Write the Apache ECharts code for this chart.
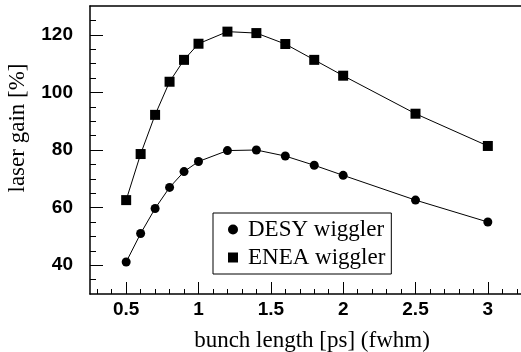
<!DOCTYPE html>
<html>
<head>
<meta charset="utf-8">
<script src="https://cdn.jsdelivr.net/npm/echarts@6/dist/echarts.min.js"></script>
<style>
  html, body { margin: 0; padding: 0; background: #fff; }
  #chart { width: 521px; height: 352px; }
</style>
</head>
<body>
<div id="chart"></div>
<script>
// Bunch length (ps, fwhm) at which the gain was computed
const bunchLength = [0.5, 0.6, 0.7, 0.8, 0.9, 1.0, 1.2, 1.4, 1.6, 1.8, 2.0, 2.5, 3.0];
// Laser gain [%] for each wiggler
const desyGain = [41.1, 51.0, 59.7, 67.0, 72.5, 76.0, 79.8, 80.0, 77.9, 74.7, 71.2, 62.6, 55.0];
const eneaGain = [62.6, 78.6, 92.2, 103.7, 111.3, 116.9, 121.1, 120.6, 116.8, 111.3, 105.8, 92.6, 81.4];

// Tick positions
const xMajorTicks = [0.5, 1, 1.5, 2, 2.5, 3];
const xMinorTicks = [0.3, 0.4, 0.6, 0.7, 0.8, 0.9, 1.1, 1.2, 1.3, 1.4, 1.6, 1.7, 1.8, 1.9,
                     2.1, 2.2, 2.3, 2.4, 2.6, 2.7, 2.8, 2.9, 3.1, 3.2];
const yMajorTicks = [40, 60, 80, 100, 120];
const yMinorTicks = [35, 45, 50, 55, 65, 70, 75, 85, 90, 95, 105, 110, 115, 125];

const SERIF = '"Liberation Serif", "Times New Roman", serif';
const SANS = '"Liberation Sans", Arial, sans-serif';

const pairs = (xs, ys) => xs.map((x, i) => [x, ys[i]]);

const chart = echarts.init(document.getElementById('chart'), null, { renderer: 'canvas' });

const X_MIN = 0.25, X_MAX = 3.25, Y_MIN = 30, Y_MAX = 130;
const axisLine = { show: true, lineStyle: { color: '#000', width: 1.5 } };
const tickLabel = { color: '#000', fontSize: 19, fontWeight: 'bold', fontFamily: SANS };

chart.setOption({
  animation: false,
  backgroundColor: '#fff',
  grid: { left: 90, top: 6, width: 434, height: 288, containLabel: false, outerBoundsMode: 'none' },
  xAxis: [
    {
      type: 'value', min: X_MIN, max: X_MAX, position: 'bottom',
      axisLine: axisLine,
      axisTick: { show: true, inside: true, length: 12, customValues: xMajorTicks,
                  lineStyle: { color: '#000', width: 1 } },
      axisLabel: Object.assign({ show: true, customValues: xMajorTicks, margin: 6 }, tickLabel),
      splitLine: { show: false },
      name: 'bunch length [ps] (fwhm)', nameLocation: 'middle', nameGap: 35,
      nameTextStyle: { color: '#000', fontSize: 23, fontFamily: SERIF, padding: [0, 0, 0, 10] }
    },
    {
      type: 'value', min: X_MIN, max: X_MAX, position: 'bottom',
      axisLine: { show: false },
      axisTick: { show: true, inside: true, length: 5, customValues: xMinorTicks,
                  lineStyle: { color: '#000', width: 1 } },
      axisLabel: { show: false },
      splitLine: { show: false }
    },
    {
      type: 'value', min: X_MIN, max: X_MAX, position: 'top',
      axisLine: axisLine,
      axisTick: { show: false }, axisLabel: { show: false }, splitLine: { show: false }
    }
  ],
  yAxis: [
    {
      type: 'value', min: Y_MIN, max: Y_MAX, position: 'left',
      axisLine: axisLine,
      axisTick: { show: true, inside: true, length: 13, customValues: yMajorTicks,
                  lineStyle: { color: '#000', width: 1 } },
      axisLabel: Object.assign({ show: true, customValues: yMajorTicks, margin: 17 }, tickLabel),
      splitLine: { show: false }
    },
    {
      type: 'value', min: Y_MIN, max: Y_MAX, position: 'left',
      axisLine: { show: false },
      axisTick: { show: true, inside: true, length: 6, customValues: yMinorTicks,
                  lineStyle: { color: '#000', width: 1 } },
      axisLabel: { show: false },
      splitLine: { show: false }
    }
  ],
  legend: {
    left: 213, top: 213, orient: 'vertical',
    backgroundColor: '#fff', borderColor: '#000', borderWidth: 1,
    padding: [5, 6, 5, 15], itemGap: 5, itemWidth: 10, itemHeight: 10,
    textStyle: { color: '#000', fontSize: 23, fontFamily: SERIF, padding: [0, 0, 0, 5] },
    data: [
      { name: 'DESY wiggler', icon: 'circle' },
      { name: 'ENEA wiggler', icon: 'rect' }
    ]
  },
  graphic: [
    {
      type: 'text', x: 18, y: 128, rotation: Math.PI / 2,
      style: { text: 'laser gain [%]', fill: '#000', fontSize: 23, fontFamily: SERIF,
               align: 'center', verticalAlign: 'middle' }
    }
  ],
  series: [
    {
      name: 'DESY wiggler', type: 'line', xAxisIndex: 0, yAxisIndex: 0,
      data: pairs(bunchLength, desyGain),
      symbol: 'circle', symbolSize: 9,
      itemStyle: { color: '#000' },
      lineStyle: { color: '#000', width: 1 }
    },
    {
      name: 'ENEA wiggler', type: 'line', xAxisIndex: 0, yAxisIndex: 0,
      data: pairs(bunchLength, eneaGain),
      symbol: 'rect', symbolSize: 10,
      itemStyle: { color: '#000' },
      lineStyle: { color: '#000', width: 1 }
    }
  ]
});
</script>
</body>
</html>
